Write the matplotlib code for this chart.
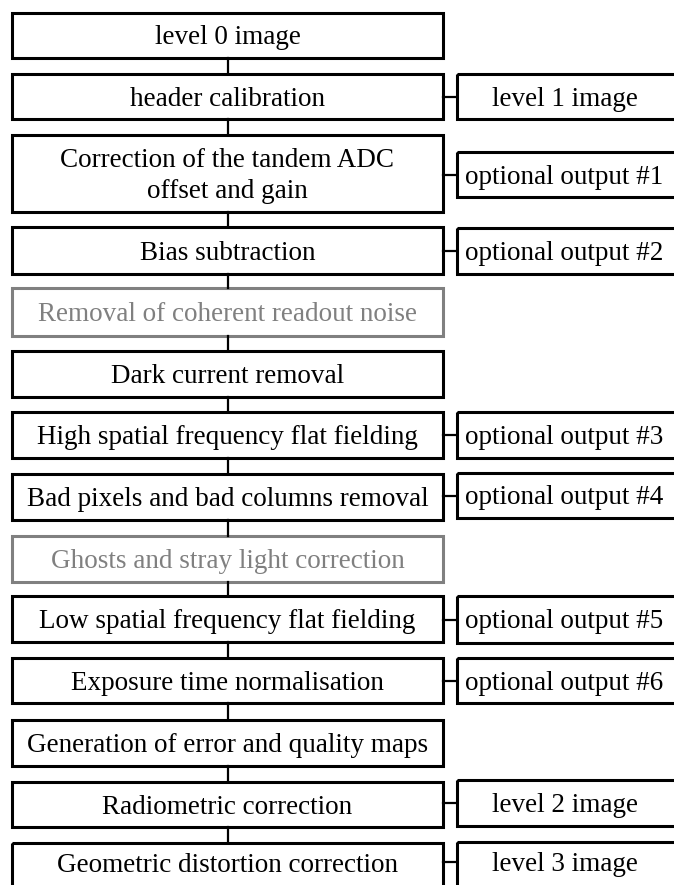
import matplotlib.pyplot as plt
from matplotlib.patches import Rectangle

# processing steps (main column), top to bottom
steps = [
    "level 0 image",
    "header calibration",
    "Correction of the tandem ADC\noffset and gain",
    "Bias subtraction",
    "Removal of coherent readout noise",
    "Dark current removal",
    "High spatial frequency flat fielding",
    "Bad pixels and bad columns removal",
    "Ghosts and stray light correction",
    "Low spatial frequency flat fielding",
    "Exposure time normalisation",
    "Generation of error and quality maps",
    "Radiometric correction",
    "Geometric distortion correction",
]
# steps drawn in grey
grey_steps = [4, 8]

# side outputs: index of step they hang off, label
outputs_idx = [1, 2, 3, 6, 7, 9, 10, 12, 13]
outputs = [
    "level 1 image",
    "optional output #1",
    "optional output #2",
    "optional output #3",
    "optional output #4",
    "optional output #5",
    "optional output #6",
    "level 2 image",
    "level 3 image",
]

# layout (pixels)
step_y = [(13, 58), (74, 119), (135, 212), (227, 274), (288, 336), (351, 397),
          (412, 458), (474, 520), (536, 582), (596, 642), (658, 703),
          (720, 766), (782, 827), (843, 890)]
out_y = [(74, 119), (152, 197), (228, 274), (412, 458), (473, 518),
         (596, 643), (658, 703), (780, 826), (842, 890)]
X0, X1 = 12, 443
OX0, OX1 = 457, 678
FS = 19.5
LW = 2.2
DY = 2.5  # nudge text down a bit

fig = plt.figure(figsize=(6.74, 8.85), dpi=100)
ax = fig.add_axes([0, 0, 1, 1])
ax.set_xlim(0, 674)
ax.set_ylim(885, 0)
ax.axis('off')

xc = (X0 + X1) / 2
for i, (label, (t, b)) in enumerate(zip(steps, step_y)):
    col = '#808080' if i in grey_steps else 'black'
    ax.add_patch(Rectangle((X0, t), X1 - X0, b - t, fill=False, ec=col, lw=LW))
    ax.text(xc, (t + min(b, 882)) / 2 + DY, label, ha='center', va='center', fontsize=FS,
            family='Liberation Serif', color=col, linespacing=1.3)
    if i < len(steps) - 1:
        ax.plot([xc, xc], [b, step_y[i + 1][0]], color='black', lw=1.6)

for idx, label, (t, b) in zip(outputs_idx, outputs, out_y):
    ax.add_patch(Rectangle((OX0, t), OX1 - OX0, b - t, fill=False, ec='black', lw=LW))
    yc = (t + min(b, 882)) / 2
    ax.text((OX0 + 672) / 2, yc + DY, label, ha='center', va='center',
            fontsize=FS, family='Liberation Serif')
    ax.plot([X1, OX0], [yc, yc], color='black', lw=1.6)

fig.savefig('out.png', dpi=100)
